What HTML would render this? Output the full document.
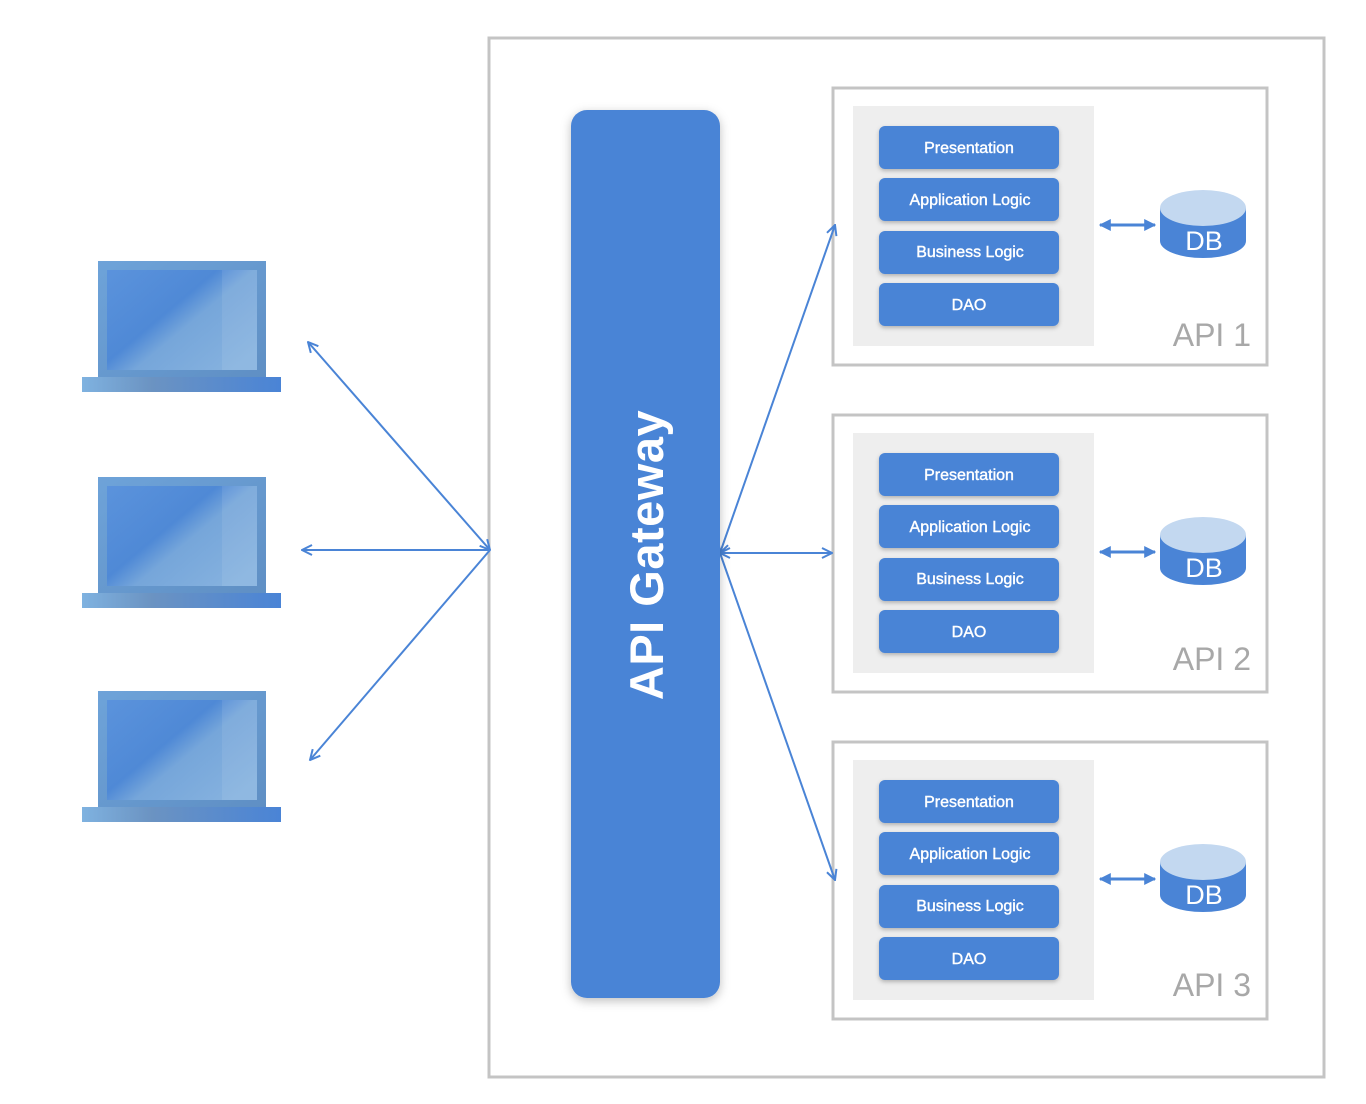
<!DOCTYPE html>
<html><head><meta charset="utf-8"><style>
html,body{margin:0;padding:0;background:#fff;}
svg{display:block;font-family:"Liberation Sans",Arial,sans-serif;}
</style></head><body>
<svg width="1366" height="1104" viewBox="0 0 1366 1104" xmlns="http://www.w3.org/2000/svg">
<defs>
<linearGradient id="scr" x1="0" y1="0" x2="1" y2="1">
<stop offset="0" stop-color="#6ea3d9"/><stop offset="1" stop-color="#5f8fc4"/></linearGradient>
<linearGradient id="inner" x1="0" y1="0" x2="1" y2="0.8">
<stop offset="0" stop-color="#5b93dc"/><stop offset="0.45" stop-color="#4f89d6"/><stop offset="0.6" stop-color="#76a6da"/><stop offset="1" stop-color="#86b2df"/></linearGradient>
<linearGradient id="base" x1="0" y1="0" x2="1" y2="0">
<stop offset="0" stop-color="#7fb2e0"/><stop offset="0.35" stop-color="#6b93c2"/><stop offset="1" stop-color="#4a84d6"/></linearGradient>
<filter id="sh" x="-10%" y="-10%" width="130%" height="130%"><feDropShadow dx="0" dy="2" stdDeviation="2" flood-color="#000" flood-opacity="0.25"/></filter>
<filter id="gsh" x="-20%" y="-5%" width="140%" height="110%"><feDropShadow dx="0" dy="3" stdDeviation="5" flood-color="#000" flood-opacity="0.25"/></filter>
<marker id="oa" viewBox="0 0 12 12" refX="11" refY="6" markerWidth="12" markerHeight="12" markerUnits="userSpaceOnUse" orient="auto-start-reverse">
<path d="M1,1 L11,6 L1,11" fill="none" stroke="#4a84d6" stroke-width="2"/></marker>
<marker id="fa" viewBox="0 0 10 10" refX="9" refY="5" markerWidth="12" markerHeight="12" markerUnits="userSpaceOnUse" orient="auto-start-reverse">
<path d="M0,0 L10,5 L0,10 Z" fill="#4a84d6"/></marker>
<g id="laptop">
<rect x="98" y="0" width="168" height="116" fill="url(#scr)"/>
<rect x="107" y="9" width="150" height="100" fill="url(#inner)"/>
<rect x="222" y="9" width="35" height="100" fill="#ffffff" opacity="0.08"/>
<rect x="82" y="116" width="199" height="15" fill="url(#base)"/>
</g>
<g id="api">
<rect x="833" y="0" width="434" height="277" fill="#fff" stroke="#c4c4c4" stroke-width="3"/>
<rect x="853" y="18" width="241" height="240" fill="#eeeeee"/>
<g filter="url(#sh)" fill="#4a84d6">
<rect x="879" y="38" width="180" height="43" rx="6"/>
<rect x="879" y="90" width="180" height="43" rx="6"/>
<rect x="879" y="143" width="180" height="43" rx="6"/>
<rect x="879" y="195" width="180" height="43" rx="6"/>
</g>
<g fill="#fff" font-size="16" text-anchor="middle" stroke="#fff" stroke-width="0.4">
<text x="969" y="65">Presentation</text>
<text x="970" y="117">Application Logic</text>
<text x="970" y="169">Business Logic</text>
<text x="969" y="222">DAO</text>
</g>
<line x1="1100" y1="137" x2="1155" y2="137" stroke="#4a84d6" stroke-width="3" marker-start="url(#fa)" marker-end="url(#fa)"/>
<path d="M1160,120 L1160,153 A43,17 0 0 0 1246,153 L1246,120 Z" fill="#4a84d6"/>
<ellipse cx="1203" cy="120" rx="43" ry="18" fill="#c3d8f0"/>
<text x="1204" y="162" fill="#fff" font-size="27" text-anchor="middle">DB</text>
</g>
</defs>

<rect x="489" y="38" width="835" height="1039" fill="#fff" stroke="#c4c4c4" stroke-width="3"/>

<use href="#laptop" y="261"/>
<use href="#laptop" y="477"/>
<use href="#laptop" y="691"/>

<use href="#api" y="88"/>
<use href="#api" y="415"/>
<use href="#api" y="742"/>
<g fill="#a8a8a8" font-size="32" text-anchor="end">
<text x="1251" y="346">API 1</text>
<text x="1251" y="670">API 2</text>
<text x="1251" y="996">API 3</text>
</g>

<g stroke="#4a84d6" stroke-width="2" fill="none">
<line x1="490" y1="550" x2="308" y2="342" marker-end="url(#oa)" marker-start="url(#oa)"/>
<line x1="490" y1="550" x2="302" y2="550" marker-end="url(#oa)"/>
<line x1="490" y1="550" x2="310" y2="760" marker-end="url(#oa)"/>
<line x1="720" y1="553" x2="835" y2="225" marker-end="url(#oa)" marker-start="url(#oa)"/>
<line x1="720" y1="553" x2="832" y2="553" marker-end="url(#oa)" marker-start="url(#oa)"/>
<line x1="720" y1="553" x2="835" y2="880" marker-end="url(#oa)"/>
</g>

<rect x="571" y="110" width="149" height="888" rx="16" fill="#4a84d6" filter="url(#gsh)"/>
<text transform="translate(663,555) rotate(-90)" fill="#fff" font-size="47" font-weight="bold" text-anchor="middle" letter-spacing="0.5">API Gateway</text>
</svg>
</body></html>
